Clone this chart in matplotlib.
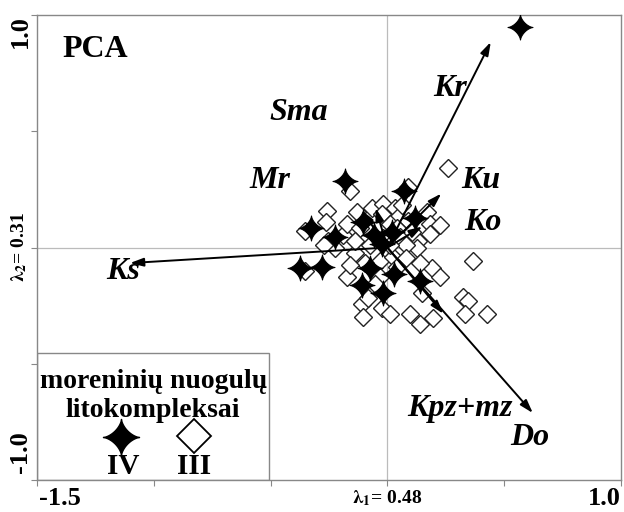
"""
PCA biplot of moraine deposit lithocomplexes (IV and III).
"""

import matplotlib
matplotlib.use('Agg')
import matplotlib.pyplot as plt
from matplotlib.path import Path
import numpy as np

plt.rcParams['font.family'] = ['Liberation Serif', 'DejaVu Serif']
plt.rcParams['font.weight'] = 'bold'
plt.rcParams['mathtext.fontset'] = 'stix'

# Sample scores, lithocomplex IV (stars)
iv_x = [0.569, -0.180, 0.073, -0.325, -0.223, -0.103, -0.056, 0.021, 0.120,
        -0.372, -0.278, -0.073, 0.030, -0.107, -0.017, 0.141, -0.021]
iv_y = [0.950, 0.288, 0.245, 0.082, 0.047, 0.108, 0.052, 0.065, 0.125,
        -0.090, -0.086, -0.090, -0.112, -0.163, -0.194, -0.142, 0.017]

# Sample scores, lithocomplex III (diamonds)
iii_x = [0.261, 0.090, -0.158, -0.257, -0.261, -0.351, -0.253, -0.188, -0.171,
         -0.128, -0.116, -0.064, -0.017, -0.021, 0.034, 0.047, 0.064, 0.013,
         0.090, 0.043, -0.017, 0.056, 0.133, 0.171, 0.184, 0.227, 0.184, 0.128,
         0.081, 0.368, -0.030, 0.026, 0.081, -0.137, -0.223, -0.270, -0.351,
         -0.171, -0.030, -0.051, 0.043, 0.193, 0.227, 0.150, 0.325, 0.347,
         0.428, 0.334, -0.107, -0.081, -0.021, 0.013, 0.098, 0.197, 0.141,
         -0.103, -0.137, -0.073, 0.013, -0.094, 0.107, 0.141, -0.158]
iii_y = [0.340, 0.262, 0.245, 0.159, 0.108, 0.073, 0.030, 0.052, 0.103,
         0.151, 0.086, 0.168, 0.189, 0.142, 0.168, 0.133, 0.181, 0.103,
         0.116, 0.082, 0.039, 0.047, 0.030, 0.151, 0.103, 0.095, 0.060, -0.004,
         0.009, -0.056, -0.056, -0.043, -0.047, -0.022, -0.004, 0.010, -0.099,
         -0.129, -0.129, -0.159, -0.082, -0.090, -0.125, -0.194, -0.215, -0.228,
         -0.284, -0.284, -0.241, -0.219, -0.262, -0.284, -0.284, -0.305, -0.327,
         -0.301, 0.030, 0.009, 0.009, -0.065, 0.065, -0.065, -0.077]

# Variable loadings (arrows)
var_names = ['Kr', 'Ks', 'Do', 'Ku', 'Ko', 'Mr', 'Sma', 'Kpz+mz']
var_x = [0.443, -1.102, 0.623, 0.231, 0.150, -0.110, -0.050, 0.240]
var_y = [0.884, -0.067, -0.712, 0.232, 0.090, 0.160, 0.170, -0.285]

# Where the variable names sit
label_x = [0.270, -1.130, 0.608, 0.402, 0.411, -0.501, -0.381, 0.312]
label_y = [0.684, -0.103, -0.817, 0.288, 0.107, 0.288, 0.580, -0.692]

# four-pointed star marker with concave sides
t = np.linspace(0, 2 * np.pi, 81)
star = Path(np.column_stack([np.cos(t) ** 3, np.sin(t) ** 3]), closed=True)

fig = plt.figure(figsize=(6.24, 5.12), dpi=100)
ax = fig.add_axes([0.0593, 0.0625, 0.9357, 0.9082])
ax.set_xlim(-1.5, 1.0)
ax.set_ylim(-1.0, 1.0)

ax.axvline(0, color='#bbbbbb', lw=0.9, zorder=0)
ax.axhline(0, color='#bbbbbb', lw=0.9, zorder=0)

ax.plot(iii_x, iii_y, ls='none', marker='D', ms=9.2, mfc='white',
        mec='#222222', mew=1.0, zorder=2)
ax.plot(iv_x, iv_y, ls='none', marker=star, ms=18, mfc='black',
        mec='black', mew=0.8, zorder=3)

for name, vx, vy in zip(var_names, var_x, var_y):
    ax.annotate('', xy=(vx, vy), xytext=(0, 0),
                arrowprops=dict(arrowstyle='-|>,head_length=0.8,head_width=0.25',
                                color='black', lw=1.4, shrinkA=0, shrinkB=0),
                zorder=4)

for name, lx, ly in zip(var_names, label_x, label_y):
    ax.text(lx, ly, name, fontsize=23, style='italic', fontweight='bold',
            ha='center', va='center')

ax.text(-1.391, 0.851, 'PCA', fontsize=23, fontweight='bold', ha='left', va='center')

# frame and ticks
for sp in ax.spines.values():
    sp.set_color('#888888')
    sp.set_linewidth(1.0)
ax.set_xticks(np.arange(-1.5, 1.01, 0.5))
ax.set_yticks(np.arange(-1.0, 1.01, 0.5))
ax.set_xticklabels([])
ax.set_yticklabels([])
ax.tick_params(direction='out', length=4, color='#888888', width=0.8)

# axis labels drawn as text so they can hug the corners
ax.text(-1.49, -1.03, '-1.5', fontsize=19, fontweight='bold', ha='left', va='top')
ax.text(1.0, -1.03, '1.0', fontsize=19, fontweight='bold', ha='right', va='top')
ax.text(0.0, -1.035, r'$\mathbf{\lambda_{1}}$= 0.48', fontsize=14, fontweight='bold',
        ha='center', va='top')
ax.text(-1.52, 1.0, '1.0', fontsize=19, fontweight='bold', ha='right', va='top',
        rotation=90)
ax.text(-1.52, -0.97, '-1.0', fontsize=19, fontweight='bold', ha='right', va='bottom',
        rotation=90)
ax.text(-1.535, 0.0, r'$\mathbf{\lambda_{2}}$= 0.31', fontsize=14, fontweight='bold',
        ha='right', va='center', rotation=90)

# legend box
ax.add_patch(plt.Rectangle((0.0, 0.0), 0.397, 0.273, transform=ax.transAxes,
                           fill=False, edgecolor='#888888', lw=1.0, zorder=5))
ax.text(0.199, 0.211, 'moreninių nuogulų', transform=ax.transAxes, fontsize=20,
        fontweight='bold', ha='center', va='center')
ax.text(0.199, 0.150, 'litokompleksai', transform=ax.transAxes, fontsize=20,
        fontweight='bold', ha='center', va='center')
ax.plot([0.144], [0.092], transform=ax.transAxes, marker=star, ms=26,
        mfc='black', mec='black', mew=1.0, ls='none')
ax.plot([0.269], [0.095], transform=ax.transAxes, marker='D', ms=17.5,
        mfc='white', mec='black', mew=1.3, ls='none')
ax.text(0.147, 0.030, 'IV', transform=ax.transAxes, fontsize=21,
        fontweight='bold', ha='center', va='center')
ax.text(0.269, 0.030, 'III', transform=ax.transAxes, fontsize=21,
        fontweight='bold', ha='center', va='center')

fig.savefig('out.png', dpi=100)
